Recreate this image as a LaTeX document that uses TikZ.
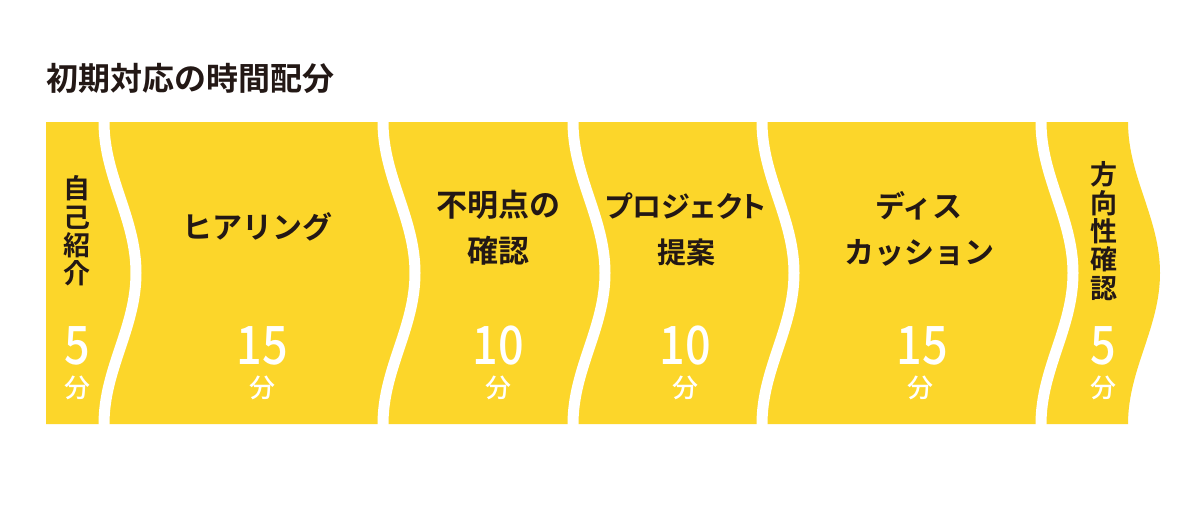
\documentclass[tikz,border=0pt]{standalone}
\usepackage{fontspec}
\setmainfont{Noto Sans CJK JP}[BoldFont={* Bold}]
\newfontfamily\jpmed{Noto Sans CJK JP Medium}
\newfontfamily\jpbp{Noto Sans CJK JP Bold}[RawFeature=+palt]
\newfontfamily\jpb{Noto Sans CJK JP Bold}
\definecolor{ylw}{RGB}{252,214,42}
\definecolor{ink}{RGB}{35,24,21}
\tikzset{
  sepline/.style={draw=white,line width=11pt},
  label/.style={inner sep=0pt,text=ink,align=center,font=\jpb\fontsize{30}{46}\selectfont},
  klabel/.style={inner sep=0pt,text=ink,align=center,font=\jpb\fontsize{31}{46}\selectfont},
  plabel/.style={inner sep=0pt,text=ink,align=center,font=\jpbp\fontsize{29}{46}\selectfont},
  vlabel/.style={inner sep=0pt,text=ink,align=center,font=\jpb\fontsize{27}{28.4}\selectfont},
  num/.style={inner sep=0pt,text=white,font=\jpmed\fontsize{53}{53}\selectfont},
  unit/.style={inner sep=0pt,text=white,font=\jpmed\fontsize{26}{26}\selectfont},
  title/.style={inner sep=0pt,text=ink,anchor=west,font=\jpb\fontsize{32}{32}\selectfont}
}
\newcommand{\nx}[1]{\scalebox{0.85}[1]{#1}}
\begin{document}
\begin{tikzpicture}[x=1pt,y=-1pt]
\useasboundingbox (0,0) rectangle (1200,506);
\fill[white] (0,0) rectangle (1200,506);
% yellow band
\fill[ylw] (46,122) -- (1128,122)
  .. controls (1128,177) and (1160,218) .. (1160,273)
  .. controls (1160,328) and (1128,369) .. (1128,424)
  -- (46,424) -- cycle;
% white wavy separators
\foreach \x in {104,383,573,762,1041}{
  \draw[sepline] (\x,112) -- (\x,122)
    .. controls (\x,177) and (\x+32,218) .. (\x+32,273)
    .. controls (\x+32,328) and (\x,369) .. (\x,424) -- (\x,434);
}
% title
\node[title] (ttl) at (46,78) {初期対応の時間配分};
% labels
\node[vlabel] (l1) at (77,231) {自\\己\\紹\\介};
\node[label] (l2) at (257,227) {ヒアリング};
\node[klabel] (l3) at (498,228) {不明点の\\確認};
\node[plabel] (l4) at (686,229) {プロジェクト\\提案};
\node[label] (l5) at (919,229) {ディス\\カッション};
\node[vlabel] (l6) at (1104,231) {方\\向\\性\\確\\認};
% numbers
\node[num] (n1) at (77,346) {\nx{5}};
\node[num] (n2) at (262,346) {\nx{15}};
\node[num] (n3) at (498,346) {\nx{10}};
\node[num] (n4) at (685,346) {\nx{10}};
\node[num] (n5) at (922,346) {\nx{15}};
\node[num] (n6) at (1103,346) {\nx{5}};
% units
\node[unit] (u1) at (77,388) {分};
\node[unit] (u2) at (262,388) {分};
\node[unit] (u3) at (498,388) {分};
\node[unit] (u4) at (685,388) {分};
\node[unit] (u5) at (920,388) {分};
\node[unit] (u6) at (1103,388) {分};
\end{tikzpicture}
\end{document}
